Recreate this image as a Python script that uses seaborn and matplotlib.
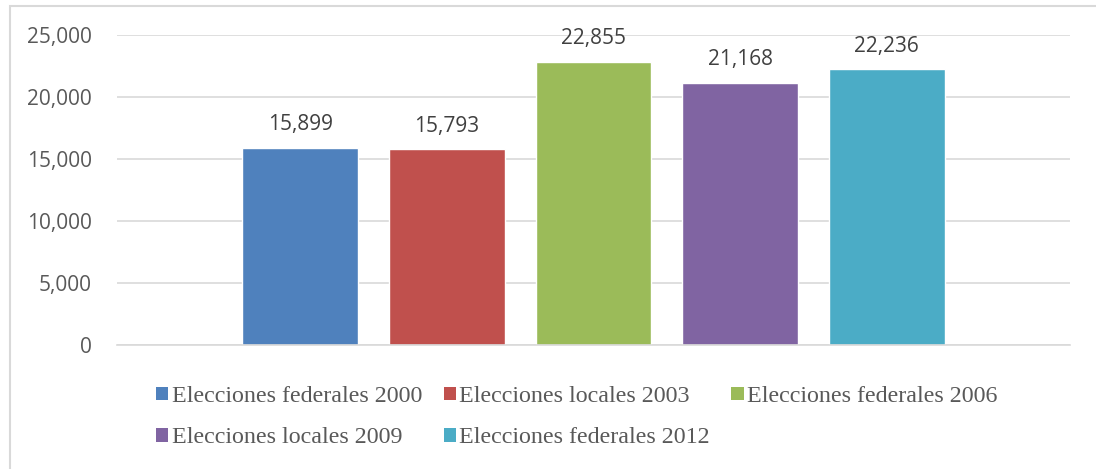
import pandas as pd
import seaborn as sns
import matplotlib.pyplot as plt
from matplotlib.patches import Patch, Rectangle
from matplotlib.ticker import FuncFormatter

# data
series = ["Elecciones federales 2000", "Elecciones locales 2003",
          "Elecciones federales 2006", "Elecciones locales 2009",
          "Elecciones federales 2012"]
values = [15899, 15793, 22855, 21168, 22236]
colors = ["#4F81BD", "#C0504D", "#9BBB59", "#8064A2", "#4BACC6"]
yticks = [0, 5000, 10000, 15000, 20000, 25000]

df = pd.DataFrame({"serie": series, "votos": values})

sns.set_style("white")
plt.rcParams["font.family"] = ["Open Sans", "DejaVu Sans"]

fig = plt.figure(figsize=(10.96, 4.69), dpi=100)
ax = fig.add_axes([117 / 1096, 1 - 345 / 469, 953 / 1096, 310 / 469])

sns.barplot(data=df, x="serie", y="votos", hue="serie", order=series,
            hue_order=series, palette=colors, width=0.79, dodge=False,
            saturation=1, legend=False, ax=ax)

for c in ax.containers:
    ax.bar_label(c, labels=[f"{v:,.0f}" for v in c.datavalues],
                 padding=9, fontsize=15, color="#404040")

ax.set_xlim(-1.25, 5.25)
ax.set_ylim(0, 25000)
ax.set_yticks(yticks)
ax.yaxis.set_major_formatter(FuncFormatter(lambda v, p: f"{v:,.0f}"))
ax.tick_params(axis="y", length=0, pad=18, labelsize=15, labelcolor="#595959")
ax.set_xticks([])
ax.set_xlabel("")
ax.set_ylabel("")
ax.grid(axis="y", color="#D9D9D9", linewidth=1.2)
ax.set_axisbelow(True)
for s in ["top", "right", "left"]:
    ax.spines[s].set_visible(False)
ax.spines["bottom"].set_color("#D9D9D9")
ax.spines["bottom"].set_linewidth(1.2)

# legend in Excel order (3 columns, filled by row)
order = [0, 3, 1, 4, 2]
handles = [Patch(facecolor=colors[i], edgecolor="none") for i in order]
labels = [series[i] for i in order]
fig.legend(handles, labels, ncol=3, loc="upper left",
           bbox_to_anchor=(156 / 1096, 1 - 386 / 469),
           bbox_transform=fig.transFigure, frameon=False,
           borderpad=0, borderaxespad=0, handlelength=0.5, handleheight=0.5,
           handletextpad=0.15, columnspacing=0.9, labelspacing=0.85,
           prop={"family": "Liberation Serif", "size": 17.3}, labelcolor="#595959")

# chart border
fig.patches.append(Rectangle((10 / 1096, -0.1), 1.2, 1.1 - 6 / 469,
                             transform=fig.transFigure, fill=False,
                             edgecolor="#D9D9D9", linewidth=1.5))

fig.savefig("out.png", dpi=100)
